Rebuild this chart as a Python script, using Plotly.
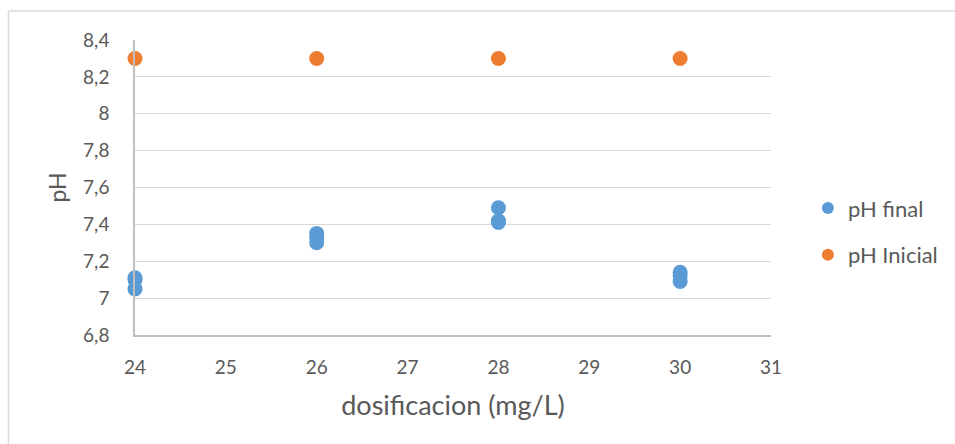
import plotly.graph_objects as go

# Dosage (mg/L) and measured pH values
dosis_final = [24, 24, 24, 26, 26, 26, 28, 28, 28, 30, 30, 30]
ph_final = [7.11, 7.10, 7.05, 7.35, 7.33, 7.30, 7.49, 7.42, 7.41, 7.14, 7.12, 7.09]

dosis_inicial = [24, 26, 28, 30]
ph_inicial = [8.3, 8.3, 8.3, 8.3]

y_ticks = [6.8, 7.0, 7.2, 7.4, 7.6, 7.8, 8.0, 8.2, 8.4]
y_labels = ["6,8", "7", "7,2", "7,4", "7,6", "7,8", "8", "8,2", "8,4"]
x_ticks = [24, 25, 26, 27, 28, 29, 30, 31]

FONT = "Lato"
TXT = "#595959"

fig = go.Figure()
fig.add_trace(go.Scatter(
    x=dosis_final, y=ph_final, mode="markers", name="pH final",
    legendgroup="a", cliponaxis=False,
    marker=dict(color="#5b9bd5", size=15),
))
fig.add_trace(go.Scatter(
    x=dosis_inicial, y=ph_inicial, mode="markers", name="pH Inicial",
    legendgroup="b", cliponaxis=False,
    marker=dict(color="#ed7d31", size=15),
))

fig.update_layout(
    width=955, height=444,
    margin=dict(l=135, r=182, t=40, b=109),
    paper_bgcolor="white", plot_bgcolor="white",
    font=dict(family=FONT, color=TXT, size=19),
    legend=dict(x=1.058, y=0.35, yanchor="middle", xanchor="left",
                font=dict(size=22, color=TXT), itemsizing="constant",
                tracegroupgap=15, itemwidth=30),
    showlegend=True,
)
fig.update_xaxes(
    range=[24, 31], tickvals=x_ticks, showgrid=False, zeroline=False,
    showline=True, linecolor="#bfbfbf", linewidth=1.5,
    ticks="", ticklabelstandoff=14, tickfont=dict(size=19, color=TXT),
    title=dict(text="dosificacion (mg/L)", font=dict(size=27, color=TXT), standoff=20),
)
fig.update_yaxes(
    range=[6.8, 8.4], tickvals=y_ticks, ticktext=y_labels,
    showgrid=True, gridcolor="#d9d9d9", gridwidth=1, zeroline=False,
    showline=True, linecolor="#bfbfbf", linewidth=1.5,
    ticks="", ticklabelstandoff=20, tickfont=dict(size=19, color=TXT),
    title=dict(text="pH", font=dict(size=23, color=TXT), standoff=10),
)

# Chart frame (top and left edges)
fig.add_shape(type="line", xref="paper", yref="paper",
              x0=-0.199, x1=1.3, y0=1.098, y1=1.098,
              line=dict(color="#d9d9d9", width=1.5))
fig.add_shape(type="line", xref="paper", yref="paper",
              x0=-0.199, x1=-0.199, y0=1.098, y1=-0.4,
              line=dict(color="#d9d9d9", width=1.5))

fig.write_html("out.html")
